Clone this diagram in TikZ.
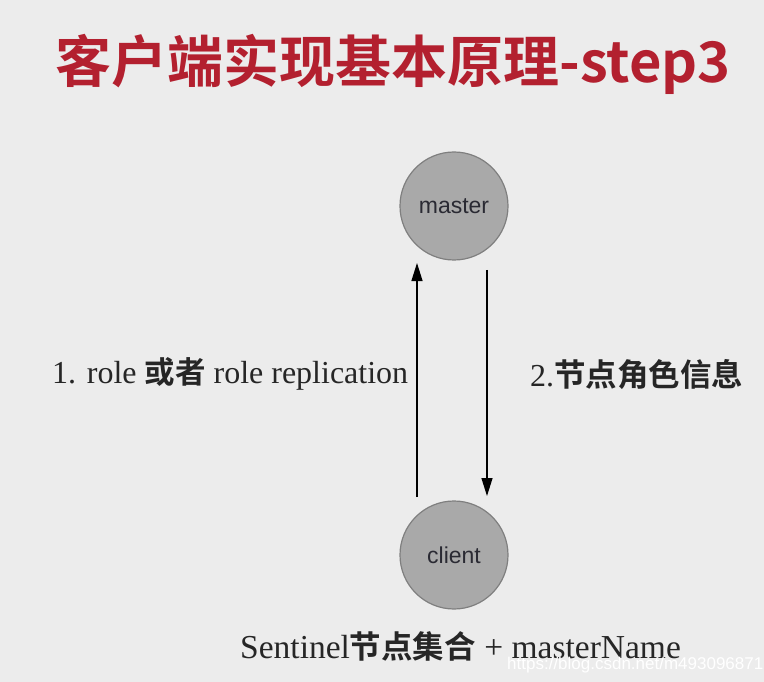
\documentclass[tikz,border=0pt]{standalone}
\usepackage{fontspec}
\setmainfont{Liberation Serif}
\setsansfont{Liberation Sans}
\newfontfamily\cjkbold{Noto Sans CJK SC Bold}
\usetikzlibrary{arrows.meta}
\definecolor{bg}{HTML}{ECECEC}
\definecolor{titlered}{HTML}{B3202F}
\definecolor{nodefill}{HTML}{A9A9A9}
\definecolor{nodeedge}{HTML}{7F7F7F}
\definecolor{nodetext}{HTML}{2A2A33}
\newcommand{\cjkl}[1]{{\cjkbold\fontsize{30.5}{34}\selectfont #1}}
\newcommand{\cjkw}[1]{{\cjkbold\fontsize{31.5}{34}\selectfont #1}}
\begin{document}
\begin{tikzpicture}[x=1pt,y=-1pt,
  circ/.style={circle,draw=nodeedge,line width=1.2pt,fill=nodefill,minimum size=108pt,inner sep=0pt,
    font=\sffamily\fontsize{23}{26}\selectfont,text=nodetext},
  lbl/.style={inner sep=0pt,anchor=west,text=black!85,font=\fontsize{32}{36}\selectfont},
  arr/.style={line width=1.3pt,-{Triangle[length=18pt,width=11pt]}}]
\fill[bg] (0,0) rectangle (764,682);
\useasboundingbox (0,0) rectangle (764,682);
\node[inner sep=0pt,text=titlered,font=\fontsize{56}{60}\selectfont] (title) at (393,64)
  {\cjkbold 客户端实现基本原理-step3};
\node[circ] (master) at (454,206) {master};
\node[circ] (client) at (454,555) {client};
\coordinate (a1s) at (417,497);
\coordinate (a1e) at (417,263);
\coordinate (a2s) at (487,270);
\coordinate (a2e) at (487,496);
\draw[arr] (a1s) -- (a1e);
\draw[arr] (a2s) -- (a2e);
\node[lbl] (l1) at (52,374) {1. role \cjkl{或者} role replication};
\node[lbl] (l2) at (530,374) {2.\cjkw{节点角色信息}};
\node[lbl,font=\fontsize{33.5}{36}\selectfont] (l3) at (240,646) {Sentinel\cjkw{节点集合} + masterName};
\node[inner sep=0pt,anchor=west,text=white,font=\sffamily\fontsize{17}{20}\selectfont] (wm) at (507,665)
  {https://blog.csdn.net/m493096871};
\end{tikzpicture}
\end{document}
